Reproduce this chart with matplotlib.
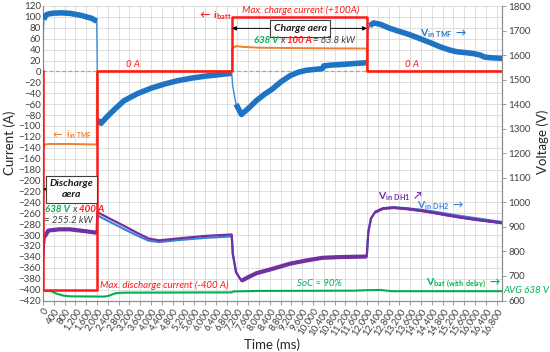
import matplotlib
matplotlib.use("Agg")
import matplotlib.pyplot as plt
from matplotlib.ticker import FuncFormatter
import numpy as np

plt.rcParams['font.family'] = ['Lato', 'DejaVu Sans']
plt.rcParams['mathtext.default'] = 'regular'

# ---------------- data ----------------
# battery current (A), left axis
t_batt = [0, 0, 2000, 2000, 7000, 7000, 12000, 12000, 17000]
i_batt = [0, -400, -400, 0, 0, 100, 100, 0, 0]

# TMF input current (A), left axis
t_itmf = [0, 60, 200, 1000, 1990, 2000, 7000, 7000, 7150, 7400, 8000, 10000, 11990, 12000, 17000]
i_itmf = [-142, -134, -133, -133, -134, 0, 0, 42, 46.5, 45, 43.5, 42.5, 42, 0, 0]

# TMF input voltage (V), right axis
t_vtmf = [0, 30, 100, 200, 400, 700, 1000, 1400, 1800, 1990, 2030, 2150, 2400, 2700, 3000, 3500,
          4000, 4500, 5000, 5500, 6000, 6500, 6990, 7030, 7150, 7350, 7600, 7900, 8200, 8500,
          8800, 9150, 9450, 9750, 10350, 10400, 10650, 11100, 11600, 11990, 12030, 12100, 12250,
          12500, 12850, 13150, 13450, 13800, 14100, 14400, 14700, 15050, 15300, 15650, 15950,
          16200, 16350, 16600, 17000]
v_vtmf = [1660, 1745, 1762, 1768, 1771, 1772, 1770, 1762, 1750, 1738, 1335, 1322, 1352, 1384, 1414, 1443,
          1465, 1482, 1496, 1506, 1514, 1520, 1526, 1470, 1400, 1358, 1382, 1414, 1440, 1462,
          1490, 1516, 1530, 1538, 1545, 1556, 1559, 1562, 1566, 1569, 1700, 1720, 1731,
          1725, 1709, 1698, 1688, 1674, 1661, 1648, 1634, 1621, 1614, 1610, 1606,
          1600, 1592, 1589, 1587]

# DH1 / DH2 input voltages (V), right axis
t_dh = [0, 60, 200, 600, 1000, 1600, 1990, 2010, 2500, 3000, 3500, 3900, 4300, 5000, 6000, 6990,
        7030, 7150, 7350, 7600, 7900, 8500, 9150, 9750, 10350, 11000, 11990, 12050, 12150, 12300,
        12600, 13000, 13500, 14000, 14500, 15000, 15500, 16000, 16500, 17000]
v_dh1 = [780, 860, 885, 890, 890, 882, 876, 960, 932, 904, 875, 853, 845, 853, 863, 869,
         790, 715, 680, 695, 711, 729, 750, 763, 774, 777, 779, 880, 935, 960,
         975, 978, 973, 966, 957, 947, 938, 930, 923, 916]
v_dh2 = [778, 858, 883, 888, 888, 880, 874, 947, 919, 891, 864, 844, 838, 846, 855, 861,
         790, 715, 680, 695, 711, 729, 750, 763, 774, 777, 779, 880, 935, 960,
         976, 980, 976, 970, 962, 953, 944, 936, 928, 920]

# battery voltage (V), right axis
t_vbat = [0, 300, 500, 750, 1000, 2300, 2450, 2700, 3000, 6990, 7050, 8000, 11500, 12000, 12500, 12900, 17000]
v_vbat = [640, 638, 628, 620, 617, 616, 620, 630, 632, 633, 637, 639, 640, 642, 643, 638, 638]

x_ticks = list(range(0, 16801, 400))
yl_ticks = list(range(-420, 121, 20))
yr_ticks = list(range(600, 1801, 100))

# ---------------- colours ----------------
RED = '#FF1A1A'
ORANGE = '#F0802E'
BLUE = '#1E74C4'
BLUE2 = '#3A80D8'
PURPLE = '#7030A0'
GREEN = '#00B050'
GRID = '#D9D9D9'
AX = '#8C8C8C'

fig = plt.figure(figsize=(5.5, 3.52), dpi=100)
ax = fig.add_axes([43/550, 1-300.5/352, 459/550, 294.5/352])
ax2 = ax.twinx()

ax.set_xlim(0, 17000)
ax.set_ylim(-420, 120)
ax2.set_ylim(600, 1800)

ax.set_xticks(x_ticks)
ax.set_yticks(yl_ticks)
ax2.set_yticks(yr_ticks)
ax.xaxis.set_major_formatter(FuncFormatter(lambda v, p: f"{int(v):,}"))
ax.grid(True, color=GRID, lw=0.6)
ax.set_axisbelow(True)

for a in (ax, ax2):
    for s in a.spines.values():
        s.set_color(AX)
        s.set_linewidth(0.8)
    a.spines['top'].set_visible(False)
    a.tick_params(colors='#404040', labelsize=7, length=3, width=0.6, color=AX, pad=1.5)
ax.tick_params(axis='y', length=0)
for lab in ax.get_xticklabels():
    lab.set_rotation(57)
    lab.set_ha('right')
    lab.set_rotation_mode('anchor')

# zero dashed line
ax.axhline(0, color='#A6A6A6', lw=0.9, ls=(0, (3, 2)), zorder=1)

tv, vv = np.array(t_vtmf), np.array(v_vtmf)
td, d1, d2 = np.array(t_dh), np.array(v_dh1), np.array(v_dh2)

# voltage lines
ax2.plot(t_vbat, v_vbat, color=GREEN, lw=1.5, zorder=2)
ax2.plot(td, d2, color=BLUE2, lw=1.5, zorder=3)
ax2.plot(td, d1, color=PURPLE, lw=1.6, zorder=4)
for sl in (slice(1, 7), slice(18, 27), slice(29, None)):
    ax2.plot(td[sl], d1[sl], color=PURPLE, lw=3.0 if sl.stop else 2.0, zorder=4,
             solid_capstyle='butt')
ax2.plot(tv, vv, color='#3C8AD8', lw=1.0, zorder=5)
for sl in (slice(1, 10), slice(10, 23), slice(24, 40), slice(41, None)):
    ax2.plot(tv[sl], vv[sl], color=BLUE, lw=4.0, zorder=5, solid_capstyle='butt',
             solid_joinstyle='round')
# currents drawn on top (left-axis coordinates)
ax2.plot(t_itmf, i_itmf, color=ORANGE, lw=1.4, zorder=6, transform=ax.transData)
ax2.plot(t_batt, i_batt, color=RED, lw=1.8, zorder=7, transform=ax.transData)

ax.set_xlabel('Time (ms)', fontsize=9.5, color='#262626')
ax.xaxis.set_label_coords(0.499, -0.13)
ax.set_ylabel('Current (A)', fontsize=9.5, color='#262626')
ax.yaxis.set_label_coords(-0.058, 0.535)
ax2.set_ylabel('Voltage (V)', fontsize=9.5, color='#262626')
ax2.yaxis.set_label_coords(1.076, 0.538)

T = dict(transform=ax.transData, zorder=10)

def seq(parts, x, y, fs=7):
    prev = None
    for s, c, w in parts:
        if prev is None:
            prev = ax2.text(x, y, s, color=c, fontweight=w, ha='left', va='center',
                            style='italic', fontsize=fs, **T)
        else:
            prev = ax2.annotate(s, xy=(1, 0.5), xycoords=prev, xytext=(1.5, 0), textcoords='offset points',
                                color=c, fontweight=w, ha='left', va='center', style='italic',
                                fontsize=fs, zorder=10, annotation_clip=False)
    return prev

# top annotations
ax2.text(5700, 103, r'$\leftarrow$ i$_{batt}$', color=RED, fontsize=7.5, ha='left', va='center', fontweight='bold', **T)
ax2.text(9550, 111.5, 'Max. charge current (+100A)', color=RED, fontsize=7, style='italic', ha='center', va='center', **T)
ax2.annotate('', xy=(7000, 79), xytext=(12000, 79), xycoords=ax.transData, textcoords=ax.transData,
             arrowprops=dict(arrowstyle='<|-|>', color='black', lw=0.7, shrinkA=0, shrinkB=0,
                             mutation_scale=6), zorder=9)
ax2.text(9520, 79, 'Charge aera', fontsize=7.5, style='italic', fontweight='bold', ha='center', va='center',
         color='#1a1a1a', bbox=dict(boxstyle='square,pad=0.35', fc='white', ec='#404040', lw=0.8), **T)
seq([('638 V', GREEN, 'bold'), ('x', '#404040', 'normal'), ('100 A', RED, 'bold'),
     ('= 63.8 kW', '#404040', 'normal')], 7800, 56, fs=6.8)
ax2.text(3330, 13.5, '0 A', color=RED, fontsize=7, style='italic', ha='center', va='center', **T)
ax2.text(13670, 13.5, '0 A', color=RED, fontsize=7, style='italic', ha='center', va='center', **T)
ax2.text(13950, 70, r'V$_{in\ TMF}$ $\rightarrow$', color=BLUE, fontsize=7.5, fontweight='bold', ha='left', va='center', **T)
ax2.text(300, -116, r'$\leftarrow$ i$_{in\ TMF}$', color=ORANGE, fontsize=6.8, fontweight='bold', ha='left', va='center', **T)

# discharge annotations
ax2.annotate('', xy=(0, -216), xytext=(2000, -216), xycoords=ax.transData, textcoords=ax.transData,
             arrowprops=dict(arrowstyle='<|-|>', color='black', lw=0.7, shrinkA=0, shrinkB=0,
                             mutation_scale=6), zorder=9)
ax2.text(1040, -216, 'Discharge\naera', fontsize=7.5, style='italic', fontweight='bold', ha='center', va='center',
         color='#1a1a1a', linespacing=1.3,
         bbox=dict(boxstyle='square,pad=0.35', fc='white', ec='#404040', lw=0.8), **T)
seq([('638 V', GREEN, 'bold'), ('x', '#404040', 'normal'), ('400 A', RED, 'bold')], 80, -253)
ax2.text(930, -273, '= 255.2 kW', color='#404040', fontsize=7, style='italic', ha='center', va='center', **T)
ax2.text(2110, -392, 'Max. discharge current (-400 A)', color=RED, fontsize=7, style='italic', ha='left', va='center', **T)

ax2.text(9400, -389, 'SoC ≈ 90%', color=GREEN, fontsize=7, style='italic', ha='left', va='center', **T)
ax2.text(14200, -389, r'V$_{bat\ (with\ delay)}$ $\rightarrow$', color=GREEN, fontsize=7.5, fontweight='bold', ha='left', va='center', **T)
ax2.text(17060, -401.5, 'AVG 638 V', color=GREEN, fontsize=7, style='italic', ha='left', va='center',
         clip_on=False, **T)

ax2.text(12400, -229, r'V$_{in\ DH1}$ $\nearrow$', color=PURPLE, fontsize=7.5, fontweight='bold', ha='left', va='center', **T)
ax2.text(13850, -247, r'V$_{in\ DH2}$ $\rightarrow$', color=BLUE2, fontsize=7.5, fontweight='bold', ha='left', va='center', **T)

fig.savefig('out.png', dpi=100)
